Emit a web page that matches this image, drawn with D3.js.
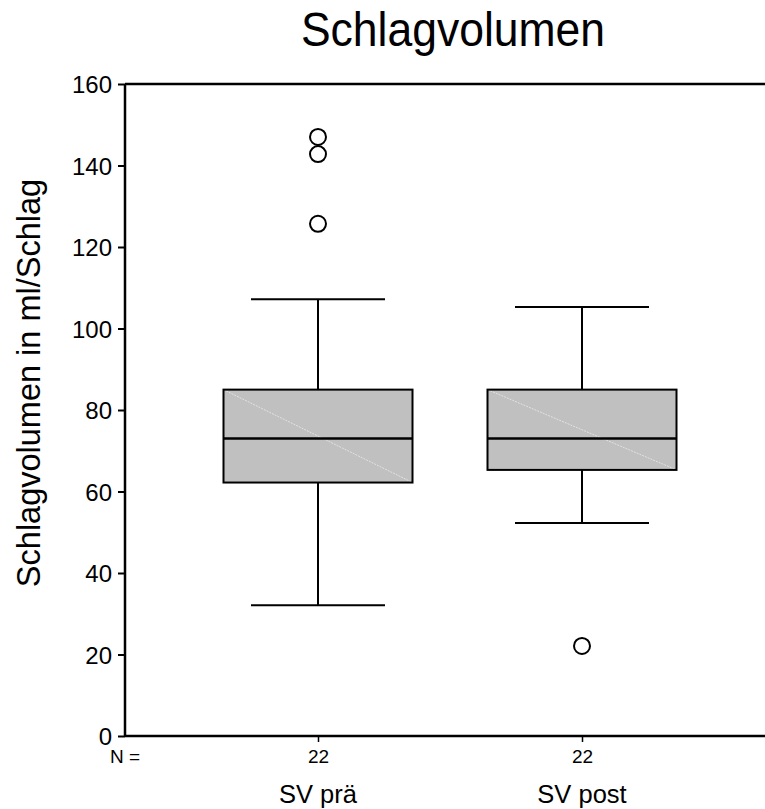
<!DOCTYPE html>
<html><head><meta charset="utf-8">
<script src="https://cdn.jsdelivr.net/npm/d3@7"></script>
<style>body{margin:0;background:#fff}svg{display:block;font-family:"Liberation Sans",Arial,sans-serif}</style>
</head><body>
<svg id="c" width="765" height="809"></svg>
<script>
const categories = ["SV prä", "SV post"];
const counts = [22, 22];
const q1 = [62.2, 65.3];
const medians = [73, 73];
const q3 = [85, 85];
const whiskerLow = [32.1, 52.3];
const whiskerHigh = [107.2, 105.3];
const outliers = [[147, 142.8, 125.7], [22.1]];
const yTicks = [0, 20, 40, 60, 80, 100, 120, 140, 160];

(function () {
const FF = "Liberation Sans, Arial, sans-serif";
const svg = d3.select("#c");
const pL = 125, pR = 765, pT = 84, pB = 736;
const y = d3.scaleLinear().domain([0, 160]).range([pB, pT]);
const x = d3.scalePoint().domain(categories).range([318, 582]);
const boxW = 189, capW = 134;

svg.append("text").attr("transform", "translate(453,46) scale(1,1.08)").attr("text-anchor", "middle")
  .attr("font-size", 44.5).text("Schlagvolumen");
svg.append("text").attr("transform", `translate(40,383) rotate(-90)`)
  .attr("text-anchor", "middle").attr("font-size", 32.5).text("Schlagvolumen in ml/Schlag");

const yAxis = svg.append("g").attr("transform", `translate(${pL},0)`)
  .call(d3.axisLeft(y).tickValues(yTicks).tickSize(7).tickPadding(6).tickFormat(d3.format("d")));
yAxis.select(".domain").remove();
yAxis.selectAll("line").attr("stroke", "#000").attr("stroke-width", 2);
yAxis.selectAll("text").attr("font-size", 24).attr("font-family", FF).attr("fill", "#000").attr("dy", "0.36em");

svg.append("line").attr("x1", pL).attr("x2", pL).attr("y1", pT).attr("y2", pB).attr("stroke", "#000").attr("stroke-width", 2.5);
svg.append("line").attr("x1", pL).attr("x2", pR).attr("y1", pT).attr("y2", pT).attr("stroke", "#000").attr("stroke-width", 2.5);
svg.append("line").attr("x1", pL).attr("x2", pR).attr("y1", pB).attr("y2", pB).attr("stroke", "#000").attr("stroke-width", 2.5);

const xAxis = svg.append("g").attr("transform", `translate(0,${pB})`)
  .call(d3.axisBottom(x).tickSize(6).tickFormat((d, i) => counts[i]).tickPadding(0));
xAxis.select(".domain").remove();
xAxis.selectAll("line").attr("stroke", "#000").attr("stroke-width", 1.5);
xAxis.selectAll("text").attr("font-size", 19).attr("font-family", FF).attr("fill", "#000")
  .attr("y", 27).attr("dy", null);

svg.append("text").attr("x", 110).attr("y", 763).attr("font-size", 19).text("N =");

categories.forEach((c) => {
  svg.append("text").attr("x", x(c)).attr("y", 803).attr("text-anchor", "middle")
    .attr("font-size", 25.5).text(c);
});

const g = svg.append("g");
categories.forEach((c, i) => {
  const cx = x(c);
  g.append("line").attr("x1", cx).attr("x2", cx).attr("y1", y(whiskerHigh[i])).attr("y2", y(q3[i])).attr("stroke", "#000").attr("stroke-width", 2);
  g.append("line").attr("x1", cx).attr("x2", cx).attr("y1", y(q1[i])).attr("y2", y(whiskerLow[i])).attr("stroke", "#000").attr("stroke-width", 2);
  [whiskerHigh[i], whiskerLow[i]].forEach(v => {
    g.append("line").attr("x1", cx - capW/2).attr("x2", cx + capW/2).attr("y1", y(v)).attr("y2", y(v)).attr("stroke", "#000").attr("stroke-width", 2);
  });
  g.append("rect").attr("x", cx - boxW/2).attr("y", y(q3[i])).attr("width", boxW).attr("height", y(q1[i]) - y(q3[i]))
    .attr("fill", "#c0c0c0").attr("stroke", "none");
  g.append("line").attr("x1", cx - boxW/2).attr("y1", y(q3[i])).attr("x2", cx + boxW/2).attr("y2", y(q1[i]))
    .attr("stroke", "#e2e2e2").attr("stroke-width", 1).attr("stroke-dasharray", "2,1");
  g.append("rect").attr("x", cx - boxW/2).attr("y", y(q3[i])).attr("width", boxW).attr("height", y(q1[i]) - y(q3[i]))
    .attr("fill", "none").attr("stroke", "#000").attr("stroke-width", 2);
  g.append("line").attr("x1", cx - boxW/2).attr("x2", cx + boxW/2).attr("y1", y(medians[i])).attr("y2", y(medians[i])).attr("stroke", "#000").attr("stroke-width", 2.5);
  outliers[i].forEach(v => {
    g.append("circle").attr("cx", cx).attr("cy", y(v)).attr("r", 8).attr("fill", "#fff").attr("stroke", "#000").attr("stroke-width", 2);
  });
});
})();
</script>
</body></html>
